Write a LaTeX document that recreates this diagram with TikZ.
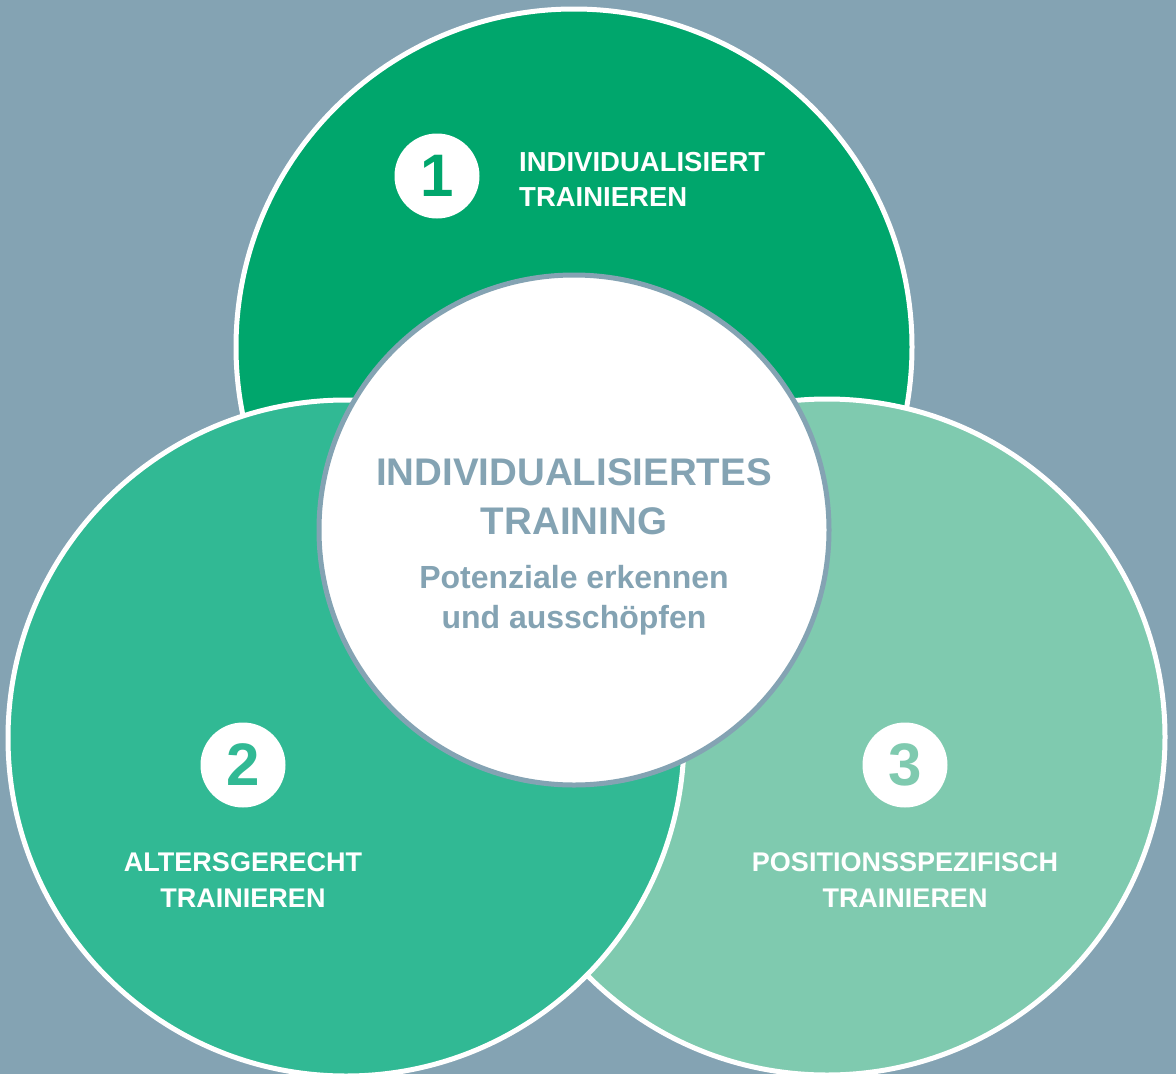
\documentclass[tikz,border=0pt]{standalone}
\usepackage{fontspec}
\setmainfont{Liberation Sans}

\definecolor{bggray}{HTML}{84A3B3}
\definecolor{greenA}{HTML}{00A66C}
\definecolor{greenB}{HTML}{31B994}
\definecolor{greenC}{HTML}{7FCAAF}

\begin{document}
\begin{tikzpicture}[x=1pt, y=-1pt,
	ring/.style={circle, draw=white, line width=5pt, minimum size=676pt, inner sep=0pt},
	badge/.style={circle, fill=white, minimum size=85pt, inner sep=0pt, font=\fontsize{60}{60}\selectfont\bfseries},
	tagtext/.style={text=white, inner sep=0pt, align=center, font=\fontsize{27}{36}\selectfont\bfseries}
]

\fill[bggray] (0, 0) rectangle (1176, 1074);
\useasboundingbox (0, 0) rectangle (1176, 1074);
\clip (0, 0) rectangle (1176, 1074);

% three big circles, back to front
\node[ring, fill=greenA] (top) at (574, 347) {};
\node[ring, fill=greenC] (right) at (827, 737) {};
\node[ring, fill=greenB] (left) at (346, 738) {};

\node[circle, fill=white, draw=bggray, line width=5pt, minimum size=510pt, inner sep=0pt] (core) at (574, 530) {};

\newcommand\badge[4]{
	\node[badge, text=#3] (#1) at #2 {#4};
}

\badge{n1}{(437, 176)}{greenA}{1};
\badge{n2}{(243, 765)}{greenB}{2};
\badge{n3}{(905, 765)}{greenC}{3};

\node[tagtext, align=left, anchor=west, font=\fontsize{27.5}{35}\selectfont\bfseries] (t1) at (519, 179.5) {INDIVIDUALISIERT\\TRAINIEREN};
\node[tagtext] (t2) at (243, 880) {ALTERSGERECHT\\TRAINIEREN};
\node[tagtext] (t3) at (905, 880.5) {POSITIONSSPEZIFISCH\\TRAINIEREN};

\node[text=bggray, inner sep=0pt, align=center, font=\fontsize{38.5}{49}\selectfont\bfseries] (title) at (574, 497) {INDIVIDUALISIERTES\\TRAINING};
\node[text=bggray, inner sep=0pt, align=center, font=\fontsize{32}{39.5}\selectfont\bfseries] (sub) at (574, 600) {Potenziale erkennen\\und ausschöpfen};

\end{tikzpicture}
\end{document}
